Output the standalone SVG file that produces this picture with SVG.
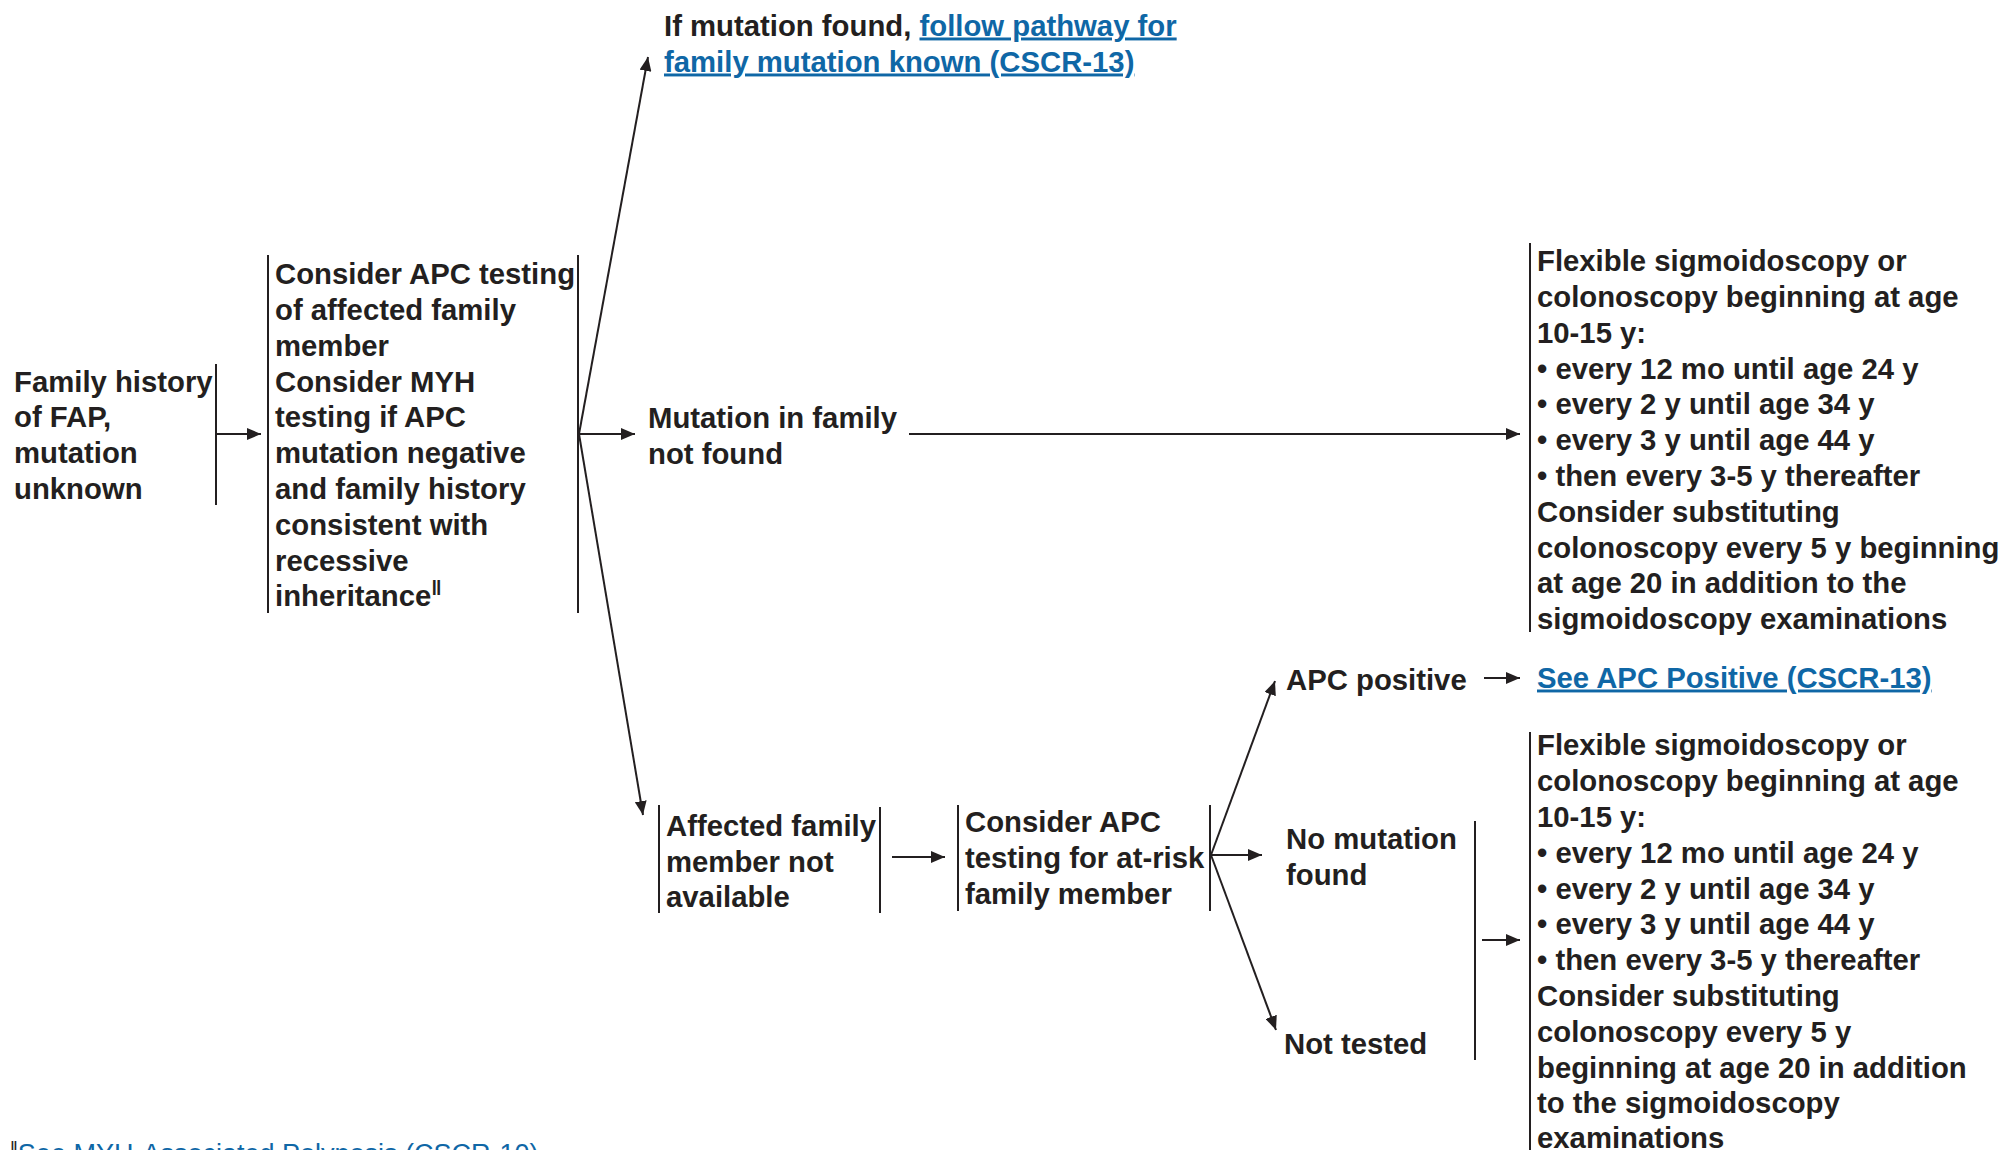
<svg xmlns="http://www.w3.org/2000/svg" width="2003" height="1150" viewBox="0 0 2003 1150">
<style>
text{font-family:"Liberation Sans",Arial,sans-serif;font-weight:bold;font-size:29.3px;fill:#231f20}
.link{fill:#0f67a6;text-decoration:underline}
.fn{font-weight:normal;font-size:27px}
.bar{stroke:#231f20;stroke-width:2;fill:none}
.arr{stroke:#231f20;stroke-width:2;fill:none;marker-end:url(#ah)}
</style>
<defs>
<marker id="ah" markerUnits="userSpaceOnUse" markerWidth="14" markerHeight="12" refX="14" refY="6" orient="auto">
<path d="M0,0 L14,6 L0,12 z" fill="#231f20"/>
</marker>
</defs>
<rect width="2003" height="1150" fill="#ffffff"/>

<g id="connectors">
<path class="arr" d="M216,434 H261"/>
<path class="arr" d="M579,434 L648,57"/>
<path class="arr" d="M579,434 H635"/>
<path class="arr" d="M579,434 L643,815"/>
<path class="arr" d="M909,434 H1520"/>
<path class="arr" d="M892,857 H945"/>
<path class="arr" d="M1211,855 L1275,681"/>
<path class="arr" d="M1211,855 H1262"/>
<path class="arr" d="M1211,855 L1276,1030"/>
<path class="arr" d="M1484,678 H1520"/>
<path class="arr" d="M1482,940 H1520"/>
</g>

<g id="node-family-history">
<text x="14" y="391.5">Family history</text>
<text x="14" y="427">of FAP,</text>
<text x="14" y="463">mutation</text>
<text x="14" y="499">unknown</text>
<line class="bar" x1="216" y1="364" x2="216" y2="505"/>
</g>

<g id="node-consider-apc">
<line class="bar" x1="268" y1="255" x2="268" y2="613"/>
<line class="bar" x1="578" y1="255" x2="578" y2="613"/>
<text x="275" y="283.5">Consider APC testing</text>
<text x="275" y="319.5">of affected family</text>
<text x="275" y="355.5">member</text>
<text x="275" y="391.5">Consider MYH</text>
<text x="275" y="427">testing if APC</text>
<text x="275" y="463">mutation negative</text>
<text x="275" y="499">and family history</text>
<text x="275" y="535">consistent with</text>
<text x="275" y="570.5">recessive</text>
<text x="275" y="606">inheritance<tspan font-size="21" dy="-11">‖</tspan></text>
</g>

<g id="node-mutation-found">
<text x="664" y="35.5">If mutation found, <tspan class="link">follow pathway for</tspan></text>
<text x="664" y="71.5" class="link">family mutation known (CSCR-13)</text>
</g>

<g id="node-mutation-not-found">
<text x="648" y="427.5">Mutation in family</text>
<text x="648" y="463.5">not found</text>
</g>

<g id="node-surveillance-1">
<line class="bar" x1="1530" y1="243" x2="1530" y2="632"/>
<text x="1537" y="270.5">Flexible sigmoidoscopy or</text>
<text x="1537" y="306.5">colonoscopy beginning at age</text>
<text x="1537" y="342.5">10-15 y:</text>
<text x="1537" y="378.5">• every 12 mo until age 24 y</text>
<text x="1537" y="414">• every 2 y until age 34 y</text>
<text x="1537" y="450">• every 3 y until age 44 y</text>
<text x="1537" y="486">• then every 3-5 y thereafter</text>
<text x="1537" y="521.5">Consider substituting</text>
<text x="1537" y="557.5">colonoscopy every 5 y beginning</text>
<text x="1537" y="593">at age 20 in addition to the</text>
<text x="1537" y="629">sigmoidoscopy examinations</text>
</g>

<g id="node-affected-not-available">
<line class="bar" x1="659" y1="805" x2="659" y2="913"/>
<line class="bar" x1="880" y1="807" x2="880" y2="913"/>
<text x="666" y="835.5">Affected family</text>
<text x="666" y="871.5">member not</text>
<text x="666" y="907">available</text>
</g>

<g id="node-at-risk">
<line class="bar" x1="958" y1="805" x2="958" y2="911"/>
<line class="bar" x1="1210" y1="805" x2="1210" y2="911"/>
<text x="965" y="831.5">Consider APC</text>
<text x="965" y="867.5">testing for at-risk</text>
<text x="965" y="903.5">family member</text>
</g>

<g id="node-apc-positive">
<text x="1286" y="690">APC positive</text>
</g>

<g id="node-see-apc-positive">
<text x="1537" y="687.5" class="link">See APC Positive (CSCR-13)</text>
</g>

<g id="node-no-mutation">
<text x="1286" y="848.5">No mutation</text>
<text x="1286" y="884.5">found</text>
</g>

<g id="node-not-tested">
<text x="1284" y="1053.5">Not tested</text>
</g>

<g id="node-bracket">
<line class="bar" x1="1475" y1="821" x2="1475" y2="1060"/>
</g>

<g id="node-surveillance-2">
<line class="bar" x1="1530" y1="732" x2="1530" y2="1150"/>
<text x="1537" y="754.5">Flexible sigmoidoscopy or</text>
<text x="1537" y="790.5">colonoscopy beginning at age</text>
<text x="1537" y="826.5">10-15 y:</text>
<text x="1537" y="862.5">• every 12 mo until age 24 y</text>
<text x="1537" y="898.5">• every 2 y until age 34 y</text>
<text x="1537" y="933.5">• every 3 y until age 44 y</text>
<text x="1537" y="969.5">• then every 3-5 y thereafter</text>
<text x="1537" y="1005.5">Consider substituting</text>
<text x="1537" y="1041.5">colonoscopy every 5 y</text>
<text x="1537" y="1077.5">beginning at age 20 in addition</text>
<text x="1537" y="1112.5">to the sigmoidoscopy</text>
<text x="1537" y="1148">examinations</text>
</g>

<g id="footnote">
<text x="10" y="1163" class="fn"><tspan font-size="19" dy="-9">‖</tspan><tspan dy="9" class="link">See MYH-Associated Polyposis (CSCR-10)</tspan></text>
</g>
</svg>
